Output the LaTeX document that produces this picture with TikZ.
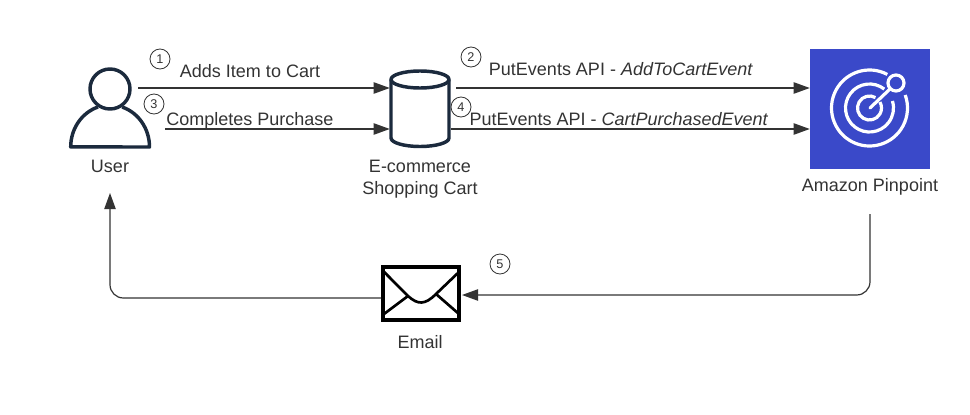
\documentclass[tikz,border=0pt]{standalone}
\usepackage{fontspec}
\setmainfont{Liberation Sans}
\usetikzlibrary{arrows.meta}
\definecolor{inkdark}{HTML}{333333}
\definecolor{iconnavy}{HTML}{1B2A3D}
\definecolor{pinblue}{HTML}{3A49C9}
\tikzset{
	flow/.style={draw=inkdark, line width=0.9pt, -{Triangle[length=12pt,width=8.5pt]}},
	lbl/.style={text=inkdark, font=\fontsize{13.5}{16.5}\selectfont, inner sep=0pt, align=center},
	stepnum/.style={circle, draw=inkdark, line width=0.6pt, minimum size=15pt, inner sep=0pt, text=inkdark, font=\fontsize{9.5}{10}\selectfont},
	ring/.style={draw=white, line width=2.4pt},
	icon/.style={draw=iconnavy, line width=2.6pt, line join=round}
}
\begin{document}
\begin{tikzpicture}[x=0.75pt, y=-0.75pt]
	\useasboundingbox (0, 0) rectangle (970, 414);

	%%%%% USER %%%%%
	\draw[icon] (110, 89) circle (20);
	\draw[icon] (98, 107) arc (252:180:39.5 and 42) -- (149.5, 147) arc (0:-72:39.5 and 42);
	\node[lbl] (user) at (110, 166) {User};
	\coordinate (userA) at (138, 88);
	\coordinate (userB) at (165, 129);
	\coordinate (userIn) at (110, 193);

	%%%%% CART %%%%%
	\node[minimum width=45pt, minimum height=58pt, inner sep=0pt] (cart) at (420, 108.5) {};
	\draw[icon] (420, 79.5) ellipse (29 and 8.5);
	\draw[icon] (391, 79.5) -- (391, 138) arc (180:0:29 and 8.5) -- (449, 79.5);
	\node[lbl] (cartlabel) at (420, 179) {E-commerce\\Shopping Cart};
	\coordinate (cartA) at (456, 88);
	\coordinate (cartB) at (451, 129);

	%%%%% PINPOINT %%%%%
	\node[fill=pinblue, minimum size=90pt, inner sep=0pt] (pin) at (870, 109) {};
	\node[lbl] (pinlabel) at (870, 187) {Amazon Pinpoint};
	\draw[ring] (869.5, 108) ++(-62:38) arc (-62:-380:38);
	\draw[ring] (869.5, 108) ++(-52:24) arc (-52:-377:24);
	\draw[ring] (869.5, 108) ++(-60:12) arc (-60:-390:12);
	\draw[ring] (896, 83) circle (8);
	\draw[ring, line cap=round] (870, 108) -- (890, 89);
	\coordinate (pinOut) at (870, 214);

	%%%%% EMAIL %%%%%
	\node[draw=black, fill=white, line width=3pt, minimum width=57pt, minimum height=40pt, inner sep=0pt] (mail) at (421, 293.5) {};
	\node[lbl] (maillabel) at (420, 342) {Email};
	\draw[black, line width=2pt] (mail.north west) ++(1, 5) -- (408, 296) .. controls (418, 305) and (425, 305) .. (436, 294) -- (460, 271);
	\draw[black, line width=2pt] (384, 314) -- (408, 296);
	\draw[black, line width=2pt] (459, 314) -- (436, 294);
	\coordinate (mailIn) at (462, 295);
	\coordinate (mailOut) at (381, 298);

	%%%%% ARROWS %%%%%
	\draw[flow] (userA) -- (userA -| cart.west);
	\draw[flow] (userB) -- (userB -| cart.west);
	\draw[flow] (cartA) -- (cartA -| pin.west);
	\draw[flow] (cartB) -- (cartB -| pin.west);
	\draw[flow, rounded corners=10pt] (pinOut) |- (mailIn);
	\draw[flow, rounded corners=10pt] (mailOut) -| (userIn);

	%%%%% LABELS %%%%%
	\node[lbl] (addlabel) at (250, 71) {Adds Item to Cart};
	\node[lbl] (buylabel) at (250, 120.5) {Completes Purchase};
	\node[lbl] (putlabel) at (621, 69) {PutEvents API - \textit{AddToCartEvent}};
	\node[lbl] (paidlabel) at (619, 119) {PutEvents API - \textit{CartPurchasedEvent}};

	\node[stepnum] (one) at (160, 59) {1};
	\node[stepnum] (two) at (471, 57) {2};
	\node[stepnum] (three) at (154, 104) {3};
	\node[stepnum] (four) at (461, 107) {4};
	\node[stepnum] (five) at (500, 264) {5};
\end{tikzpicture}
\end{document}
